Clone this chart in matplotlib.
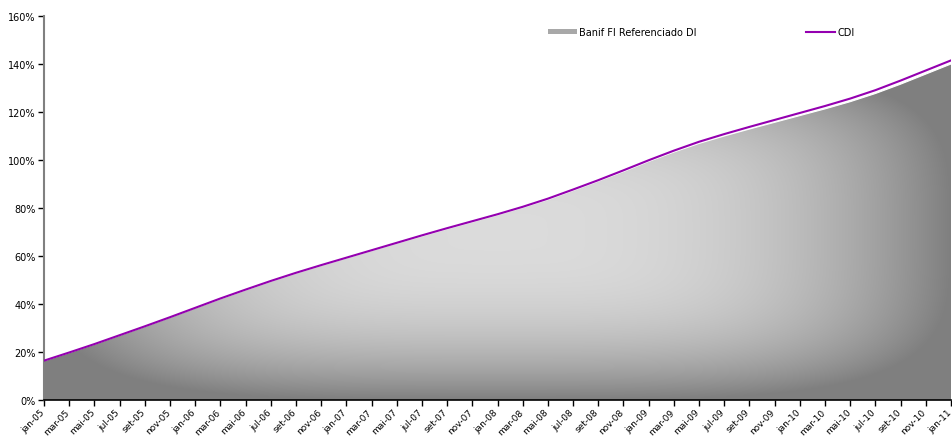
import numpy as np
import matplotlib.pyplot as plt
from matplotlib.lines import Line2D
from matplotlib.patches import Patch

# meses (a cada 2) de jan-05 a jan-11
labels = ['jan-05', 'mar-05', 'mai-05', 'jul-05', 'set-05', 'nov-05',
          'jan-06', 'mar-06', 'mai-06', 'jul-06', 'set-06', 'nov-06',
          'jan-07', 'mar-07', 'mai-07', 'jul-07', 'set-07', 'nov-07',
          'jan-08', 'mar-08', 'mai-08', 'jul-08', 'set-08', 'nov-08',
          'jan-09', 'mar-09', 'mai-09', 'jul-09', 'set-09', 'nov-09',
          'jan-10', 'mar-10', 'mai-10', 'jul-10', 'set-10', 'nov-10',
          'jan-11']
cdi = [16.4, 19.8, 23.3, 27.0, 30.7, 34.5, 38.4, 42.3, 46.0, 49.6, 53.0, 56.2,
       59.3, 62.4, 65.5, 68.6, 71.6, 74.5, 77.4, 80.5, 83.9, 87.7, 91.6, 95.7,
       99.9, 103.9, 107.6, 110.8, 113.8, 116.7, 119.6, 122.5, 125.6, 129.1,
       133.1, 137.3, 141.5]
banif = [16.3, 19.7, 23.2, 26.9, 30.6, 34.4, 38.3, 42.1, 45.8, 49.4, 52.8, 56.0,
         59.1, 62.2, 65.3, 68.3, 71.3, 74.2, 77.1, 80.2, 83.5, 87.3, 91.2, 95.2,
         99.4, 103.3, 106.9, 110.0, 112.9, 115.7, 118.5, 121.3, 124.3, 127.7,
         131.6, 135.8, 140.0]

x = np.arange(len(labels)) * 2
purple = '#9400b0'

fig = plt.figure(figsize=(9.53, 4.39), dpi=100)
ax = fig.add_axes([44 / 953, 38 / 439, 907 / 953, 384 / 439])

# preenchimento com gradiente "do centro" (claro no meio, escuro nas bordas)
top = max(banif)
gx, gy = np.meshgrid(np.linspace(-1, 1, 400), np.linspace(-1, 1, 300))
d = np.clip((np.abs(gx)**4 + np.abs(gy)**4) ** 0.25, 0, 1)
grey = 0.86 - (0.86 - 0.50) * d**2.6
img = ax.imshow(np.dstack([grey, grey, grey]), extent=[x[0], x[-1], 0, top],
                origin='lower', aspect='auto', zorder=1, interpolation='bilinear')
poly = ax.fill_between(x, banif, 0, facecolor='none', edgecolor='none')
img.set_clip_path(poly.get_paths()[0], transform=ax.transData)
ax.plot(x, banif, color='white', lw=0.8, zorder=2)

ax.plot(x, cdi, color=purple, lw=1.5, zorder=3)

ax.set_xlim(0, 72)
ax.set_ylim(0, 160)
ax.set_yticks(range(0, 161, 20))
ax.set_yticklabels([f'{v}%' for v in range(0, 161, 20)], fontsize=7)
ax.set_xticks(x)
ax.set_xticklabels([])
for xi, lab in zip(x, labels):
    ax.annotate(lab, xy=(xi, 0), xycoords=('data', 'axes fraction'),
                xytext=(-3, -5), textcoords='offset points', fontsize=6.5,
                rotation=45, ha='right', va='top', rotation_mode='anchor',
                annotation_clip=False)
ax.tick_params(direction='out', length=4, width=1, pad=2)
for s in ['top', 'right']:
    ax.spines[s].set_visible(False)
ax.spines['left'].set_color('#808080')
ax.spines['left'].set_linewidth(1.5)
ax.spines['bottom'].set_linewidth(1.2)

leg1 = fig.legend([Patch(facecolor='#a8a8a8')], ['Banif FI Referenciado DI'],
                  loc='center left', bbox_to_anchor=(548 / 953, 1 - 33 / 439),
                  frameon=False, fontsize=7, handlelength=3, handleheight=0.5,
                  handletextpad=0.2, borderpad=0, borderaxespad=0)
leg2 = fig.legend([Line2D([], [], color=purple, lw=1.5)], ['CDI'],
                  loc='center left', bbox_to_anchor=(806 / 953, 1 - 33 / 439),
                  frameon=False, fontsize=7, handlelength=3,
                  handletextpad=0.2, borderpad=0, borderaxespad=0)

plt.savefig('out.png', dpi=100)
